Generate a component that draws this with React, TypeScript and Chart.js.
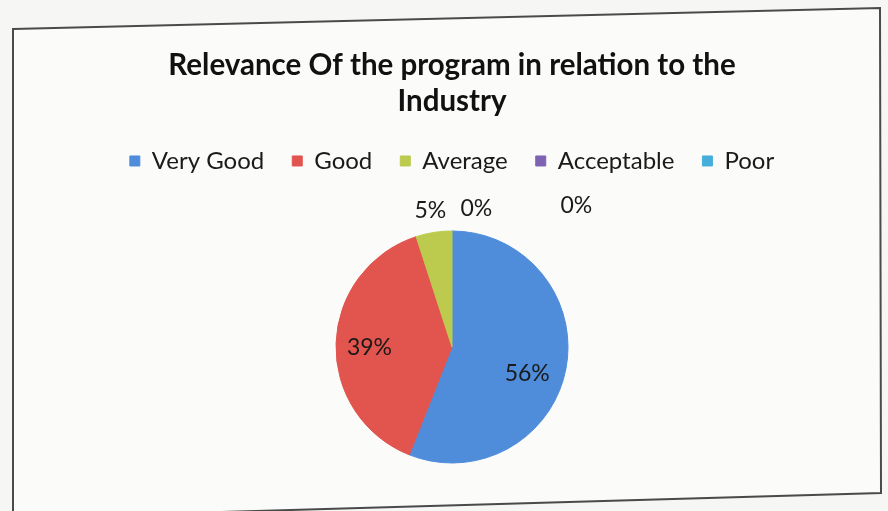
import React, { useEffect, useRef } from "react";
import { Chart, registerables } from "chart.js";

Chart.register(...registerables);

const categories = ["Very Good", "Good", "Average", "Acceptable", "Poor"];
const values = [56, 39, 5, 0, 0];
const valueLabels = ["56%", "39%", "5%", "0%", "0%"];
const colors = ["#4f8ddb", "#e2544e", "#bccb4e", "#7f63b3", "#46aedb"];
const titleLines = ["Relevance Of the program in relation to the", "Industry"];

const framePlugin = {
  id: "frame",
  beforeDraw(chart: any) {
    const ctx = chart.ctx;
    ctx.save();
    ctx.fillStyle = "#f6f6f4";
    ctx.fillRect(0, 0, chart.width, chart.height);
    ctx.beginPath();
    ctx.moveTo(13, 29);
    ctx.lineTo(880, 8);
    ctx.lineTo(881, 493);
    ctx.lineTo(13, 518);
    ctx.closePath();
    ctx.fillStyle = "#fbfbfa";
    ctx.fill();
    ctx.strokeStyle = "#4a4a4a";
    ctx.lineWidth = 2;
    ctx.stroke();
    ctx.restore();
  },
};

const labelPlugin = {
  id: "sliceLabels",
  afterDatasetsDraw(chart: any) {
    const ctx = chart.ctx;
    const meta = chart.getDatasetMeta(0);
    ctx.save();
    ctx.font = "23px Lato, 'Open Sans', sans-serif";
    ctx.fillStyle = "#1a1a1a";
    ctx.textAlign = "center";
    ctx.textBaseline = "middle";
    let prevX = -Infinity;
    const total = values.reduce((a, b) => a + b, 0);
    meta.data.forEach((arc: any, i: number) => {
      const { x, y, startAngle, endAngle, outerRadius } = arc.getProps(
        ["x", "y", "startAngle", "endAngle", "outerRadius"],
        true
      );
      const mid = (startAngle + endAngle) / 2;
      const share = values[i] / total;
      let lx: number, ly: number;
      if (share >= 0.1) {
        const r = outerRadius * 0.66;
        lx = x + Math.cos(mid) * r - (i === 1 ? 6 : 0);
        ly = y + Math.sin(mid) * r + (i === 0 ? 12 : 3);
      } else {
        const r = outerRadius + 22;
        lx = x + Math.cos(mid) * r;
        ly = y + Math.sin(mid) * r;
        const gap = values[i] === 0 && i > 3 ? 100 : 46;
        if (lx < prevX + gap) lx = prevX + gap;
        if (i > 3) ly -= 3;
        prevX = lx;
      }
      ctx.fillText(valueLabels[i], lx, ly);
    });
    ctx.restore();
  },
};

export default function App() {
  const ref = useRef<HTMLCanvasElement>(null);

  useEffect(() => {
    document.body.style.margin = "0";
    const chart = new Chart(ref.current!, {
      type: "pie",
      data: {
        labels: categories,
        datasets: [
          {
            data: values,
            backgroundColor: colors,
            borderColor: colors,
            borderWidth: 1,
            radius: 116,
          } as any,
        ],
      },
      options: {
        responsive: false,
        animation: false,
        layout: { padding: { left: 16, right: 0, top: 0, bottom: 0 } },
        plugins: {
          title: {
            display: true,
            text: titleLines,
            color: "#111",
            font: { family: "Lato, 'Open Sans', sans-serif", size: 29.5, weight: "bold", lineHeight: 1.22 },
            padding: { top: 47, bottom: 2 },
          },
          legend: {
            display: true,
            position: "top",
            labels: {
              color: "#1a1a1a",
              font: { family: "Lato, 'Open Sans', sans-serif", size: 24 },
              boxWidth: 10,
              boxHeight: 10,
              padding: 28,
            },
          },
          tooltip: { enabled: false },
        },
      },
      plugins: [framePlugin, labelPlugin],
    });
    return () => chart.destroy();
  }, []);

  return <canvas ref={ref} width={888} height={511} style={{ display: "block" }} />;
}
